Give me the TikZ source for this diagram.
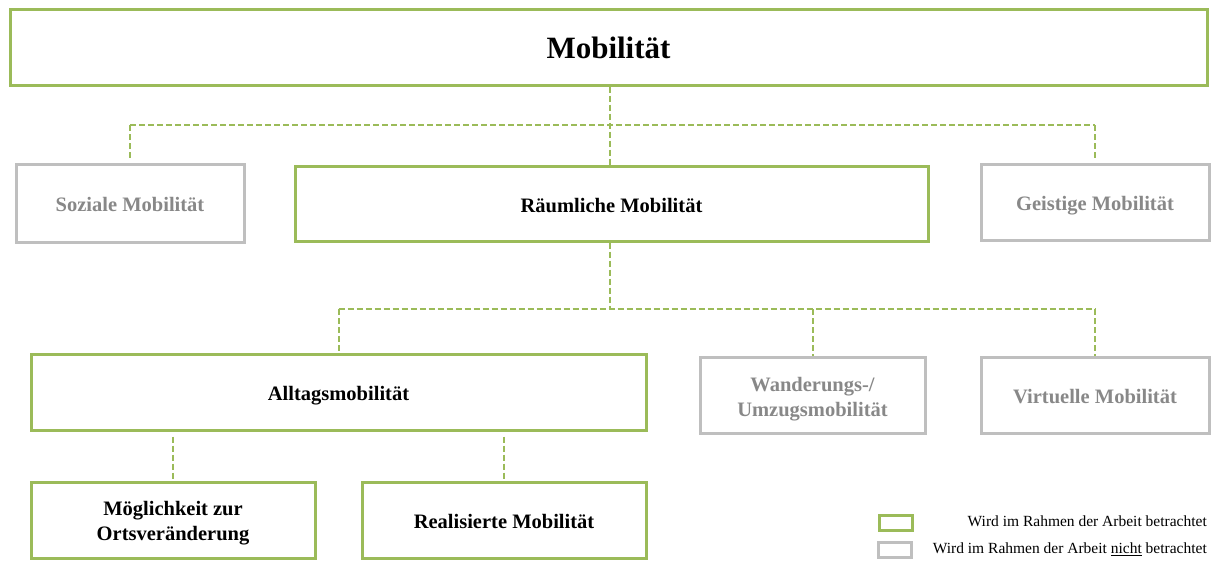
\documentclass[tikz,border=0pt]{standalone}
\usepackage{fontspec}
\setmainfont{Liberation Serif}
\definecolor{kgreen}{HTML}{9BBB59}
\definecolor{kgrayline}{HTML}{BFBFBF}
\definecolor{kgraytext}{HTML}{888888}
% lower a label inside its box without changing the box's size
\newcommand\lowertext[2]{\raisebox{-#1}[\height][\depth]{\begin{tabular}{@{}c@{}}#2\end{tabular}}}
\tikzset{
  inbox/.style={draw=kgreen, line width=3pt, fill=white, rectangle, align=center,
    font=\fontsize{20.5}{25}\selectfont\bfseries, text=black, inner sep=0pt},
  outbox/.style={draw=kgrayline, line width=3pt, fill=white, rectangle, align=center,
    font=\fontsize{20.5}{25}\selectfont\bfseries, text=kgraytext, inner sep=0pt},
  link/.style={draw=kgreen, line width=2pt, dash pattern=on 6pt off 3pt},
  legbox/.style={rectangle, line width=3pt, fill=white, minimum width=33pt, minimum height=15pt, inner sep=0pt},
  legtext/.style={anchor=east, font=\fontsize{15.5}{18}\selectfont, text=black, inner sep=0pt}
}
\begin{document}
\begin{tikzpicture}[x=1pt, y=-1pt]
\useasboundingbox (0,0) rectangle (1211,560);

% top level
\node[inbox, minimum width=1197pt, minimum height=76pt,
  font=\fontsize{31}{36}\selectfont\bfseries] (mob) at (608.5,47) {\lowertext{4pt}{Mobilität}};

% second level
\node[outbox, minimum width=228pt, minimum height=78pt] (soz) at (130,203) {\lowertext{3pt}{Soziale Mobilität}};
\node[inbox, minimum width=633pt, minimum height=75pt] (raum) at (611.5,203.5) {\lowertext{4pt}{Räumliche Mobilität}};
\node[outbox, minimum width=228pt, minimum height=76pt] (geist) at (1095,202) {\lowertext{3pt}{Geistige Mobilität}};

% third level
\node[inbox, minimum width=615pt, minimum height=76pt] (allt) at (338.5,392) {\lowertext{3pt}{Alltagsmobilität}};
\node[outbox, minimum width=225pt, minimum height=76pt] (wand) at (812.5,395) {\lowertext{3.5pt}{Wanderungs-/\\Umzugsmobilität}};
\node[outbox, minimum width=228pt, minimum height=76pt] (virt) at (1095,395) {\lowertext{3pt}{Virtuelle Mobilität}};

% fourth level
\node[inbox, minimum width=284pt, minimum height=76pt] (moeg) at (173,520) {\lowertext{3pt}{Möglichkeit zur\\Ortsveränderung}};
\node[inbox, minimum width=284pt, minimum height=76pt] (real) at (504,520) {\lowertext{3pt}{Realisierte Mobilität}};

% junctions
\coordinate (j1) at (610,125);
\coordinate (j2) at (610,309);

% connectors
\draw[link] (j1 |- mob.south) -- (j1 |- raum.north);
\draw[link] (j1 -| soz.north) -- (j1 -| geist.north);
\draw[link, shorten >=3pt] (j1 -| soz.north) -- (soz.north);
\draw[link, shorten >=3pt] (j1 -| geist.north) -- (geist.north);

\draw[link] (j2 |- raum.south) -- (j2);
\draw[link] (j2 -| allt.north) -- (j2 -| virt.north);
\draw[link] (j2 -| allt.north) -- (allt.north);
\draw[link] (j2 -| wand.north) -- (wand.north);
\draw[link] (j2 -| virt.north) -- (virt.north);

\draw[link, shorten <=5pt] (allt.south -| moeg.north) -- (moeg.north);
\draw[link, shorten <=5pt] (allt.south -| real.north) -- (real.north);

% legend
\node[legbox, draw=kgreen] (lg) at (895.5,522.5) {};
\node[legbox, draw=kgrayline] (lgr) at (895,549.5) {};
\node[legtext] (lgt) at (1207,521) {Wird im Rahmen der Arbeit betrachtet};
\node[legtext] (lgrt) at (1207,549) {Wird im Rahmen der Arbeit \underline{nicht} betrachtet};
\end{tikzpicture}
\end{document}
